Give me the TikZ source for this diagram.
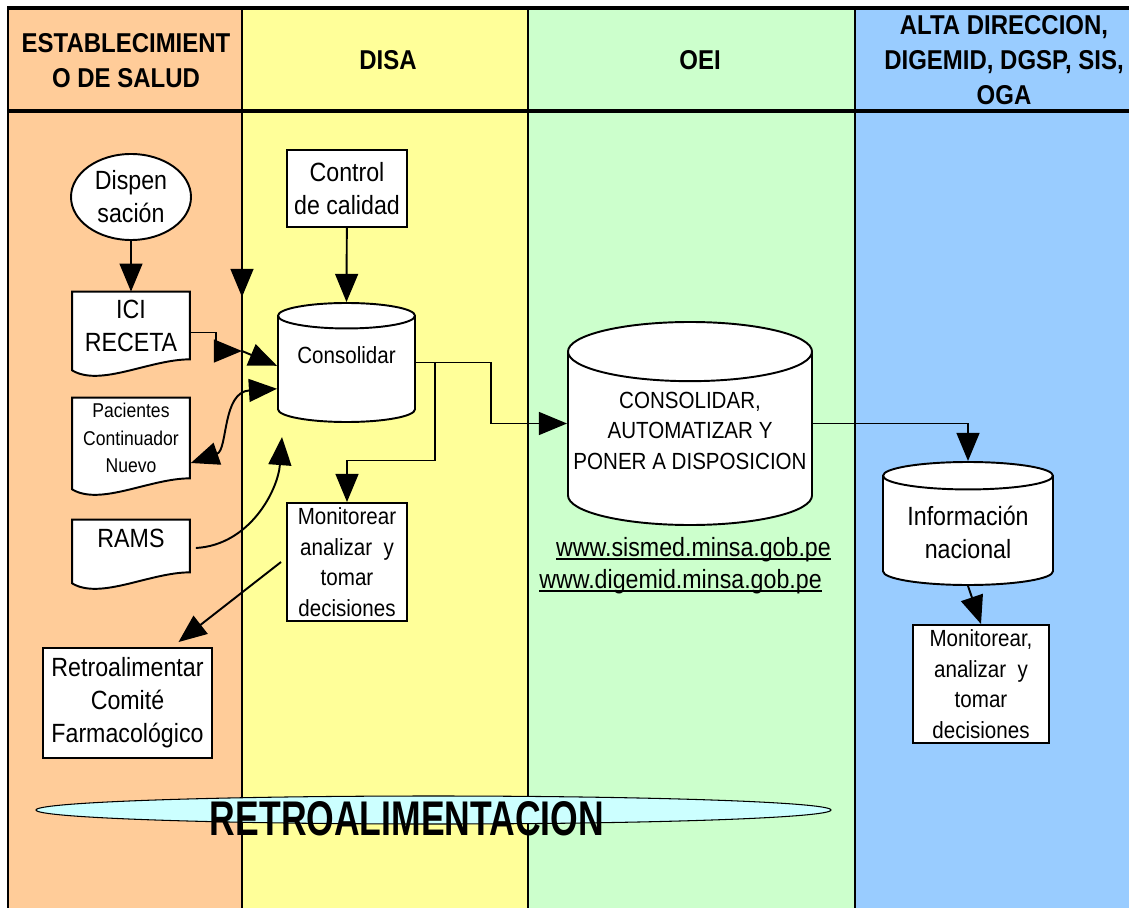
\documentclass[tikz,border=0pt]{standalone}
\usepackage{fontspec}
\setmainfont{Liberation Sans}[FakeStretch=0.88]
\newfontfamily\hdrfont{Liberation Sans}[FakeStretch=0.88]
\newfontfamily\bigfont{Liberation Sans}[FakeStretch=0.73]
\usetikzlibrary{shapes.geometric,arrows.meta,calc,positioning}
\definecolor{estcol}{HTML}{FFCC99}
\definecolor{disacol}{HTML}{FFFF99}
\definecolor{oeicol}{HTML}{CCFFCC}
\definecolor{altacol}{HTML}{99CCFF}
\definecolor{retrocol}{HTML}{CCFFFF}
\pgfdeclarelayer{lanes}
\pgfdeclarelayer{docs}
\pgfsetlayers{lanes,docs,main}
% underlined web address
\newcommand{\weblink}[1]{\setbox0\hbox{#1}\rlap{\rule[-2.2pt]{\wd0}{0.9pt}}\box0}

\tikzstyle{lane line}=[line width=1.3pt]
\tikzstyle{head line}=[line width=2pt]
\tikzstyle{lane head}=[align=center, font=\hdrfont\bfseries\fontsize{15.5}{19.8}\selectfont]
\tikzstyle{txt}=[align=center, font=\fontsize{15}{18.7}\selectfont]
\tikzstyle{mid txt}=[align=center, font=\fontsize{13.3}{17.4}\selectfont]
\tikzstyle{small txt}=[align=center, font=\fontsize{11.35}{15.6}\selectfont]
\tikzstyle{box}=[draw=black, line width=1.1pt, fill=white, rectangle, inner sep=1pt]
\tikzstyle{doc}=[rectangle, inner sep=2pt, minimum width=23.4mm]
\tikzstyle{doc line}=[draw=black, line width=1.1pt, fill=white]
\tikzstyle{drum}=[cylinder, shape border rotate=90, aspect=0.25, draw=black, line width=1.1pt, fill=white, inner sep=1pt, anchor=shape center]
\tikzstyle{flow}=[line width=1.1pt, >={Triangle[length=16pt,width=13pt]}]

% wavy bottom of a document node, drawn behind its text
\newcommand{\docoutline}[1]{%
  \begin{pgfonlayer}{docs}
  \draw[doc line] (#1.south east) -- (#1.north east) -- (#1.north west) -- ($(#1.south west)+(0,11)$)
    .. controls ($(#1.south west)+(28,28)$) and ($(#1.south east)+(-40,0)$) .. (#1.south east) -- cycle;
  \end{pgfonlayer}}

\begin{document}
\begin{tikzpicture}[x=0.2mm, y=-0.2mm]
\useasboundingbox (0,0) rectangle (1129,908);

% lanes
\begin{pgfonlayer}{lanes}
\fill[estcol] (8,8) rectangle (242,908);
\fill[disacol] (242,8) rectangle (528,908);
\fill[oeicol] (528,8) rectangle (855,908);
\fill[altacol] (855,8) rectangle (1129,908);
\foreach \x in {8,242,528,855} \draw[lane line] (\x,8) -- (\x,908);
\draw[head line] (7,8) -- (1129,8);
\draw[head line] (7,111) -- (1129,111);
\end{pgfonlayer}

\node[lane head] (hest) at (126,61) {ESTABLECIMIENT\\O DE SALUD};
\node[lane head] (hdisa) at (388,60) {DISA};
\node[lane head] (hoei) at (700,60) {OEI};
\node[lane head] (halta) at (1004,60) {ALTA DIRECCION,\\DIGEMID, DGSP, SIS,\\OGA};

% establecimiento
\node[ellipse, draw=black, line width=1.1pt, fill=white, minimum width=24mm, minimum height=17.2mm, inner sep=0pt, txt] (disp) at (131,197) {Dispen\\sación};
\node[doc, txt, minimum height=13.4mm] (ici) at (131,325.5) {ICI\\RECETA};
\node[doc, small txt, minimum height=16mm] (pac) at (131,438) {Pacientes\\Continuador\\Nuevo};
\node[doc, txt, minimum height=10.4mm, text height=12.5pt, text depth=11pt] (rams) at (131,546) {RAMS};
\node[box, txt, minimum width=33.8mm, minimum height=22mm] (retro) at (127.5,703) {Retroalimentar\\Comité\\Farmacológico};
\docoutline{ici}
\docoutline{pac}
\docoutline{rams}

% disa
\node[box, txt, minimum width=24mm, minimum height=15.4mm] (ctrl) at (347,188.5) {Control\\de calidad};
\node[drum, mid txt, minimum width=27.4mm, minimum height=23.8mm, text depth=17.6pt] (cons) at (346.5,362.5) {Consolidar};
\node[box, mid txt, minimum width=24mm, minimum height=23.6mm] (mon1) at (347,562) {Monitorear\\analizar~ y\\tomar\\decisiones};

% oei
\node[drum, mid txt, minimum width=48.8mm, minimum height=40.6mm, text depth=12pt] (oei) at (690,423.5) {CONSOLIDAR,\\AUTOMATIZAR Y\\PONER A DISPOSICION};
\node[txt, anchor=base] (sismed) at (693.5,556) {\weblink{www.sismed.minsa.gob.pe}};
\node[txt, anchor=base] (digemid) at (680.5,588) {\weblink{www.digemid.minsa.gob.pe}};

% alta direccion
\node[drum, txt, aspect=0.22, minimum width=34mm, minimum height=24.6mm] (info) at (968,523.5) {Información\\nacional};
\node[box, mid txt, minimum width=27.2mm, minimum height=23.6mm] (mon2) at (981,684) {Monitorear,\\analizar~ y\\tomar\\decisiones};

% retroalimentacion
\node[ellipse, draw=black, line width=0.6pt, fill=retrocol, minimum width=159mm, minimum height=5.6mm] (fb) at (433.5,810) {};
\node[anchor=base, inner sep=0pt, font=\bigfont\bfseries\fontsize{27.7}{30}\selectfont] (fbtext) at (407,835) {RETROALIMENTACION};

\coordinate (divtop) at (242,113);
\coordinate (divarr) at (242,297);
\coordinate (join) at (242,351);
\coordinate (ramsin) at (282,437);
\coordinate (consout) at (cons.east |- cons.shape center);
\coordinate (oeiin) at (oei.west |- oei.shape center);
\coordinate (oeiout) at (oei.east |- oei.shape center);

\draw[flow, ->] (disp) -- (ici);
\draw[flow, ->] (divtop) -- (divarr);
\draw[flow, ->] ($(ici.east)+(0,7)$) -- ++(26,0) |- (join);
\draw[flow, ->] (join) -- ($(cons.west)+(0,-5)$);
\draw[flow, ->] (ctrl) -- (cons.north);
\draw[flow, <->] ($(pac.east)+(1,25)$) .. controls (228,450) and (222,392) .. ($(cons.west)+(0,18)$);
\draw[flow, ->] ($(rams.east)+(6,2)$) .. controls (250,545) and (278,490) .. (ramsin);
\draw[flow, ->] (consout) -- ++(75,0) |- (oeiin);
\draw[flow, ->] ($(consout)+(19,0)$) -- ++(0,98) -| (mon1.north);
\draw[flow, ->] ($(mon1.west)+(-5,0)$) -- ($(retro.north)+(51,-5)$);
\draw[flow, ->] (oeiout) -| (info.north);
\draw[flow, ->] (info.south) -- (mon2.north);

\end{tikzpicture}
\end{document}
